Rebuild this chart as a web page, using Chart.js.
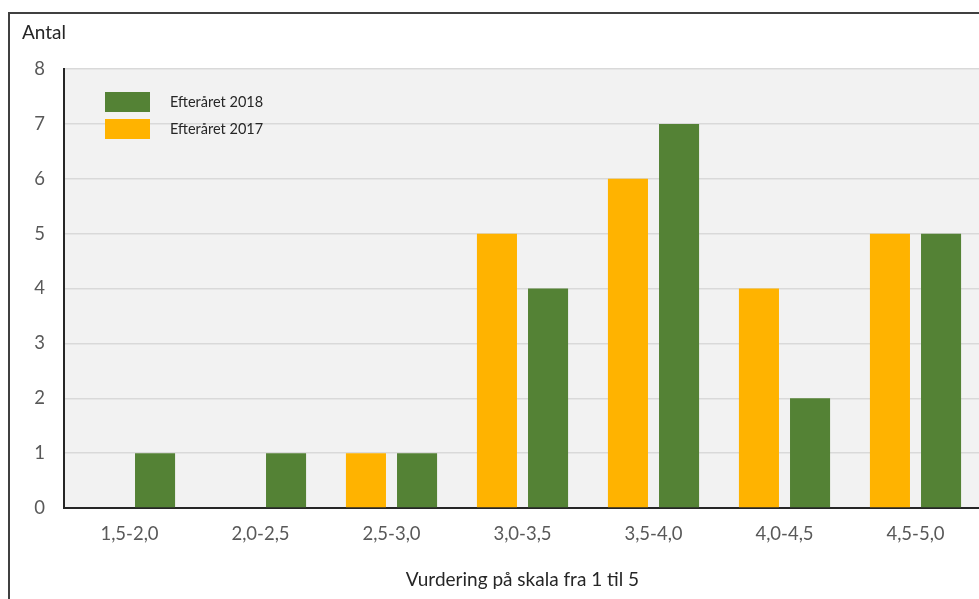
<!DOCTYPE html>
<html>
<head>
<meta charset="utf-8">
<script src="https://cdn.jsdelivr.net/npm/chart.js@4"></script>
<style>
    html, body { margin: 0; padding: 0; background: #fff; overflow: hidden; }
    #frame {
        position: absolute; left: 8px; top: 12px; width: 1100px; height: 700px;
        border-left: 2px solid #404040; border-top: 2px solid #404040;
    }
    #wrap { position: absolute; left: 0; top: 0; width: 981px; height: 599px; }
</style>
</head>
<body>
<div id="frame"></div>
<div id="wrap"><canvas id="ratingChart"></canvas></div>
<script>
// Vurdering - antal pr. interval
const categories = ['1,5-2,0', '2,0-2,5', '2,5-3,0', '3,0-3,5', '3,5-4,0', '4,0-4,5', '4,5-5,0'];
const values2017 = [0, 0, 1, 5, 6, 4, 5];
const values2018 = [1, 1, 1, 4, 7, 2, 5];
const seriesNames = ['Efteråret 2017', 'Efteråret 2018'];
const yTicks = [0, 1, 2, 3, 4, 5, 6, 7, 8];

const FONT = 'Lato, "Open Sans", sans-serif';
const ORANGE = '#ffb300';
const GREEN = '#548235';

// plot background + axis label + legend inside the plot
var extras = {
    id: 'extras',
    beforeDraw: function (chart) {
        var a = chart.chartArea, ctx = chart.ctx;
        ctx.save();
        ctx.fillStyle = '#f2f2f2';
        ctx.fillRect(a.left, a.top, a.right - a.left, a.bottom - a.top);
        ctx.restore();
    },
    afterDraw: function (chart) {
        var ctx = chart.ctx;
        ctx.save();
        ctx.fillStyle = '#262626';
        ctx.font = '19px ' + FONT;
        ctx.textBaseline = 'middle';
        ctx.fillText('Antal', 22, 33);

        // legend: 2018 first, then 2017
        var order = [1, 0];
        ctx.font = '14.5px ' + FONT;
        order.forEach(function (idx, i) {
            var ds = chart.data.datasets[idx];
            var y = 92 + i * 27;
            ctx.fillStyle = ds.backgroundColor;
            ctx.fillRect(105, y, 45, 20);
            ctx.fillStyle = '#262626';
            ctx.fillText(ds.label, 170, y + 10);
        });
        ctx.restore();
    }
};

new Chart(document.getElementById('ratingChart'), {
    type: 'bar',
    data: {
        labels: categories,
        datasets: [{
            label: seriesNames[0],
            data: values2017,
            backgroundColor: ORANGE,
            categoryPercentage: 0.78,
            barPercentage: 0.784
        }, {
            label: seriesNames[1],
            data: values2018,
            backgroundColor: GREEN,
            categoryPercentage: 0.78,
            barPercentage: 0.784
        }]
    },
    options: {
        responsive: true,
        maintainAspectRatio: false,
        animation: false,
        layout: {
            padding: { top: 69, right: 0, left: 0, bottom: 0 }
        },
        plugins: {
            legend: { display: false },
            tooltip: { enabled: false }
        },
        scales: {
            x: {
                grid: { display: false },
                border: { color: '#262626', width: 2 },
                ticks: {
                    color: '#595959',
                    padding: 7,
                    font: { family: FONT, size: 18.5 }
                },
                title: {
                    display: true,
                    text: 'Vurdering på skala fra 1 til 5',
                    color: '#262626',
                    font: { family: FONT, size: 19 },
                    padding: { top: 20, bottom: 8 }
                },
                afterFit: function (scale) { scale.height = 91; }
            },
            y: {
                min: 0,
                max: 8,
                afterBuildTicks: function (scale) {
                    scale.ticks = yTicks.map(function (v) { return { value: v }; });
                },
                grid: {
                    color: '#d9d9d9',
                    lineWidth: 1.5,
                    drawTicks: false
                },
                border: { color: '#262626', width: 2 },
                ticks: {
                    color: '#595959',
                    padding: 19,
                    font: { family: FONT, size: 18.5 }
                },
                afterFit: function (scale) { scale.width = 64; }
            }
        }
    },
    plugins: [extras]
});
</script>
</body>
</html>
